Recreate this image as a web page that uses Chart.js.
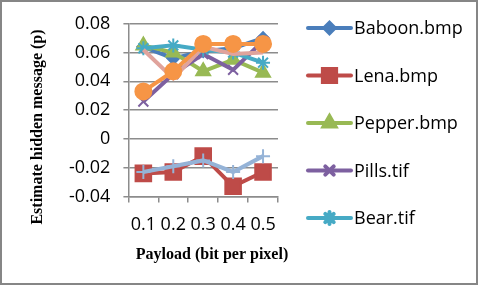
<!DOCTYPE html>
<html>
<head>
<meta charset="utf-8">
<script src="https://cdn.jsdelivr.net/npm/chart.js@4.4.1/dist/chart.umd.min.js"></script>
<style>
  html, body { margin: 0; padding: 0; background: #fff; }
  #wrap { width: 480px; height: 287px; }
</style>
</head>
<body>
<div id="wrap"><canvas id="c" width="480" height="287"></canvas></div>
<script>
// ---- data ------------------------------------------------------------------
const PAYLOAD = ['0.1', '0.2', '0.3', '0.4', '0.5'];

const BABOON  = [0.064, 0.056, 0.061, 0.063, 0.070];
const LENA    = [-0.024, -0.023, -0.012, -0.033, -0.023];
const PEPPER  = [0.065, 0.060, 0.047, 0.055, 0.046];
const PILLS   = [0.026, 0.045, 0.059, 0.048, 0.068];
const BEAR    = [0.063, 0.065, 0.062, 0.060, 0.053];
const SERIES6 = [0.062, 0.042, 0.064, 0.059, 0.060];   // pink, not in legend
const SERIES7 = [0.033, 0.047, 0.066, 0.066, 0.066];   // orange, not in legend
const SERIES8 = [-0.023, -0.019, -0.015, -0.023, -0.012]; // light blue, not in legend

const Y_MIN = -0.04, Y_MAX = 0.08, Y_STEP = 0.02;

const X_TITLE = 'Payload (bit per pixel)';
const Y_TITLE = 'Estimate hidden message (p)';
const LEGEND_COUNT = 5;

// ---- styles ----------------------------------------------------------------
const SANS  = '"Open Sans", "Noto Sans", sans-serif';
const SERIF = '"Liberation Serif", "DejaVu Serif", serif';
const GRID  = '#8c8c8c';

function ds(label, data, color, style, radius, extra = {}) {
  return {
    label, data,
    borderColor: color, backgroundColor: color,
    borderWidth: 4, tension: 0,
    pointStyle: style, pointRadius: radius,
    pointBackgroundColor: color, pointBorderColor: color, pointBorderWidth: 2,
    ...extra,
  };
}

const datasets = [
  ds('Baboon.bmp', BABOON,  '#4a7ebb', 'rectRot',  6),
  ds('Lena.bmp',   LENA,    '#be4b48', 'rect',    11),
  ds('Pepper.bmp', PEPPER,  '#98b954', 'triangle', 8),
  ds('Pills.tif',  PILLS,   '#7d60a0', 'crossRot', 7),
  ds('Bear.tif',   BEAR,    '#46aac5', 'star',     7),
  ds('Series6',    SERIES6, '#e0a39c', 'circle',   0),
  ds('Series7',    SERIES7, '#f69546', 'circle',   8),
  ds('Series8',    SERIES8, '#95b3d7', 'cross',    7),
];
// later series on top
datasets.forEach((d, i) => { d.order = datasets.length - i; });

// ---- plugins ---------------------------------------------------------------
const frame = {
  id: 'frame',
  beforeDraw(chart) {
    const ctx = chart.ctx;
    ctx.save();
    ctx.fillStyle = '#fff';
    ctx.fillRect(0, 0, chart.width, chart.height);
    ctx.restore();
  },
  afterDraw(chart) {
    const ctx = chart.ctx;
    ctx.save();
    ctx.strokeStyle = '#868686';
    ctx.lineWidth = 2;
    ctx.strokeRect(1, 1, chart.width - 4, chart.height - 4);
    ctx.restore();
  },
};

const axisTitles = {
  id: 'axisTitles',
  afterDraw(chart) {
    const ctx = chart.ctx;
    ctx.save();
    ctx.fillStyle = '#000';
    ctx.font = 'bold 16px ' + SERIF;
    ctx.textAlign = 'center';
    ctx.textBaseline = 'middle';
    ctx.fillText(X_TITLE, 212, 255);
    ctx.translate(38, 127);
    ctx.rotate(-Math.PI / 2);
    ctx.fillText(Y_TITLE, 0, 0);
    ctx.restore();
  },
};

const sideLegend = {
  id: 'sideLegend',
  afterDraw(chart) {
    const ctx = chart.ctx;
    const x0 = 308, x1 = 351, tx = 354, top = 28, step = 47.5;
    ctx.save();
    for (let i = 0; i < LEGEND_COUNT; i++) {
      const d = chart.data.datasets[i];
      const y = top + i * step;
      ctx.strokeStyle = d.borderColor;
      ctx.lineWidth = 4;
      ctx.lineCap = 'round';
      ctx.beginPath();
      ctx.moveTo(x0, y);
      ctx.lineTo(x1, y);
      ctx.stroke();
      ctx.fillStyle = d.pointBackgroundColor;
      ctx.strokeStyle = d.pointBorderColor;
      Chart.helpers.drawPoint(ctx, {
        pointStyle: d.pointStyle, radius: d.pointRadius * 0.85,
        rotation: 0, borderWidth: d.pointBorderWidth,
      }, (x0 + x1) / 2, y);
      ctx.fillStyle = '#000';
      ctx.font = '18px ' + SANS;
      ctx.textAlign = 'left';
      ctx.textBaseline = 'middle';
      ctx.fillText(d.label, tx, y + 1);
    }
    ctx.restore();
  },
};

// ---- chart -----------------------------------------------------------------
new Chart(document.getElementById('c'), {
  type: 'line',
  data: { labels: PAYLOAD, datasets },
  options: {
    animation: false,
    responsive: false,
    plugins: { legend: { display: false }, tooltip: { enabled: false } },
    layout: { padding: { left: 56, right: 202, top: 23, bottom: 39 } },
    scales: {
      x: {
        type: 'category', offset: true,
        grid: { offset: true, drawOnChartArea: false, drawTicks: true, tickLength: 6, color: GRID, lineWidth: 1.5 },
        border: { display: true, color: GRID, width: 1.5 },
        ticks: { color: '#000', padding: 12, maxRotation: 0, font: { size: 18, family: SANS } },
      },
      y: {
        min: Y_MIN, max: Y_MAX,
        grid: { drawTicks: true, tickLength: 5, color: GRID, lineWidth: 1.5 },
        border: { display: true, color: GRID, width: 1.5 },
        ticks: {
          stepSize: Y_STEP, color: '#000', padding: 13,
          font: { size: 18, family: SANS },
          callback: v => String(Math.round(v * 100) / 100),
        },
      },
    },
  },
  plugins: [frame, axisTitles, sideLegend],
});
</script>
</body>
</html>
